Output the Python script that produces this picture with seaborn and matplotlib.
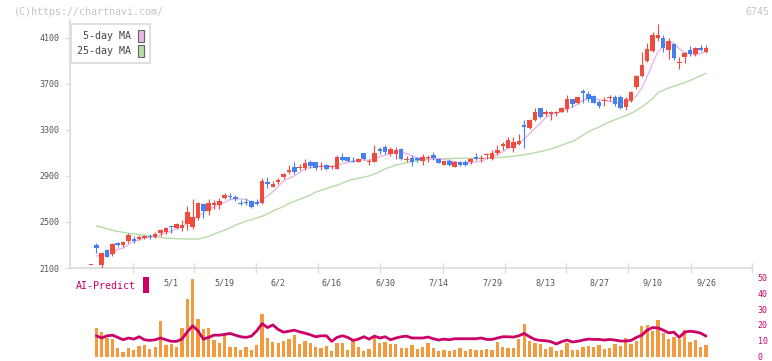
"""
Recria o grafico de candles (6745) com MAs, volume e linha AI-Predict.
Saida: out.png (772x361)
"""

import numpy as np
import pandas as pd
import seaborn as sns
import matplotlib.pyplot as plt
from matplotlib.patches import Patch, Rectangle

# precos diarios (indice 0 = 4/9 ... indice 115 = 9/26)
OPEN = [2130, 2300, 2126, 2257, 2219, 2320, 2297, 2332, 2355, 2350,
        2358, 2378, 2373, 2402, 2413, 2465, 2445, 2448, 2483, 2459,
        2532, 2657, 2599, 2648, 2648, 2706, 2730, 2720, 2668, 2677,
        2685, 2677, 2663, 2848, 2807, 2848, 2894, 2935, 2976, 2970,
        2972, 3019, 3019, 2982, 2996, 2978, 2961, 3065, 3065, 3033,
        3025, 3097, 3025, 3019, 3135, 3152, 3091, 3095, 3132, 3040,
        3054, 3054, 3033, 3058, 3083, 3045, 2996, 3033, 2982, 3022,
        3022, 3025, 3063, 3050, 3083, 3045, 3103, 3161, 3146, 3143,
        3178, 3346, 3321, 3387, 3491, 3437, 3435, 3450, 3454, 3483,
        3570, 3538, 3642, 3613, 3596, 3541, 3550, 3578, 3587, 3587,
        3503, 3552, 3670, 3770, 3900, 3989, 4097, 4103, 3996, 4046,
        3885, 3930, 3996, 3958, 4011, 3977]
HIGH = [2130, 2315, 2242, 2267, 2318, 2329, 2335, 2402, 2378, 2385,
        2390, 2398, 2415, 2437, 2460, 2465, 2495, 2520, 2640, 2700,
        2678, 2665, 2700, 2690, 2705, 2755, 2750, 2735, 2695, 2705,
        2690, 2700, 2880, 2889, 2860, 2880, 2930, 2998, 3020, 3000,
        3045, 3040, 3025, 3019, 3002, 2995, 3080, 3100, 3065, 3065,
        3052, 3097, 3050, 3165, 3148, 3170, 3150, 3150, 3140, 3070,
        3080, 3065, 3095, 3080, 3110, 3055, 3033, 3045, 3033, 3030,
        3035, 3054, 3100, 3080, 3103, 3125, 3170, 3195, 3235, 3235,
        3265, 3385, 3395, 3490, 3491, 3470, 3462, 3467, 3500, 3600,
        3570, 3590, 3655, 3635, 3605, 3560, 3590, 3605, 3605, 3605,
        3590, 3640, 3780, 3975, 4054, 4155, 4222, 4125, 4100, 4055,
        3937, 3975, 4030, 4020, 4035, 4040]
LOW = [2130, 2233, 2103, 2198, 2200, 2283, 2283, 2320, 2315, 2344,
       2350, 2355, 2365, 2380, 2395, 2400, 2435, 2425, 2430, 2436,
       2520, 2532, 2560, 2610, 2615, 2700, 2700, 2680, 2645, 2645,
       2620, 2650, 2655, 2793, 2800, 2830, 2875, 2915, 2915, 2950,
       2950, 2970, 2950, 2950, 2955, 2960, 2961, 3030, 3025, 3020,
       3020, 3040, 2995, 3019, 3090, 3090, 3075, 3050, 3040, 3020,
       2990, 3025, 2995, 3025, 3040, 3010, 2993, 2990, 2975, 2990,
       2990, 3005, 3040, 3025, 3050, 3040, 3080, 3130, 3140, 3110,
       3170, 3139, 3310, 3378, 3400, 3420, 3390, 3425, 3454, 3460,
       3500, 3530, 3533, 3545, 3535, 3495, 3505, 3555, 3505, 3480,
       3470, 3545, 3655, 3760, 3890, 3980, 4070, 3980, 3917, 3910,
       3830, 3880, 3945, 3940, 3985, 3965]
CLOSE = [2130, 2277, 2228, 2198, 2309, 2297, 2326, 2390, 2332, 2373,
         2381, 2370, 2398, 2430, 2445, 2454, 2483, 2477, 2590, 2546,
         2668, 2599, 2668, 2668, 2685, 2735, 2716, 2700, 2657, 2663,
         2633, 2657, 2857, 2830, 2830, 2865, 2915, 2955, 2938, 2980,
         3010, 2990, 2967, 2990, 2961, 2985, 3065, 3039, 3033, 3025,
         3048, 3048, 3030, 3097, 3117, 3112, 3132, 3130, 3045, 3050,
         3025, 3039, 3063, 3063, 3054, 3016, 3030, 2996, 3025, 2994,
         2996, 3050, 3050, 3058, 3091, 3097, 3126, 3178, 3213, 3193,
         3204, 3330, 3387, 3454, 3416, 3454, 3454, 3457, 3491, 3570,
         3526, 3584, 3620, 3567, 3538, 3512, 3553, 3583, 3523, 3494,
         3570, 3628, 3768, 3865, 4004, 4126, 4126, 4012, 4074, 3925,
         3892, 3965, 3958, 4011, 3993, 4016]

# media de 25 dias (indice 0 sem valor)
MA25 = [np.nan, 2465, 2455, 2440, 2428, 2418, 2410, 2402, 2397, 2392,
        2385, 2378, 2370, 2365, 2361, 2358, 2355, 2353, 2352, 2352,
        2352, 2362, 2375, 2395, 2412, 2430, 2450, 2472, 2490, 2508,
        2520, 2535, 2550, 2570, 2595, 2615, 2635, 2660, 2680, 2697,
        2715, 2735, 2760, 2775, 2790, 2805, 2820, 2838, 2858, 2870,
        2880, 2890, 2900, 2918, 2938, 2962, 2978, 2995, 3005, 3015,
        3025, 3035, 3040, 3044, 3047, 3049, 3050, 3052, 3053, 3054,
        3054, 3054, 3054, 3054, 3055, 3057, 3060, 3063, 3067, 3072,
        3078, 3085, 3092, 3102, 3112, 3122, 3135, 3150, 3168, 3185,
        3200, 3225, 3255, 3285, 3306, 3325, 3350, 3370, 3390, 3407,
        3425, 3445, 3470, 3500, 3535, 3570, 3625, 3645, 3665, 3680,
        3695, 3712, 3730, 3750, 3772, 3793]

# volume (escala relativa 0-50) e AI-Predict, indices 1..115
VOLUME = [18.1, 15.4, 11.7, 10.8, 5.4, 2.9, 5.4, 4.2, 6.7, 7.3,
          4.8, 6.0, 22.3, 7.5, 7.9, 6.0, 18.1, 36.7, 49.2, 23.7,
          17.3, 18.1, 10.4, 8.5, 14.0, 6.3, 6.3, 3.8, 6.3, 4.4,
          7.5, 26.7, 11.9, 9.4, 8.75, 9.8, 11.0, 13.75, 8.1, 9.8,
          8.75, 6.3, 5.4, 6.9, 3.75, 8.75, 8.5, 4.4, 10.2, 6.3,
          3.75, 4.8, 12.1, 8.75, 9.4, 7.9, 7.7, 5.4, 5.4, 7.3,
          4.8, 6.0, 8.5, 5.4, 3.5, 4.2, 3.5, 4.2, 5.4, 3.5,
          4.8, 4.2, 4.2, 4.8, 4.2, 9.2, 6.0, 5.4, 5.4, 11.0,
          20.4, 9.8, 8.5, 7.9, 4.8, 6.0, 3.5, 4.2, 8.5, 4.2,
          4.2, 6.0, 6.7, 6.0, 7.3, 4.8, 5.4, 7.9, 6.7, 11.7,
          7.9, 9.8, 19.2, 19.8, 16.0, 22.9, 14.8, 11.0, 12.3, 11.0,
          16.7, 9.2, 10.4, 6.0, 7.3]
AI_PREDICT = [13.1, 11.7, 13.1, 13.5, 12.1, 10.6, 11.7, 11.0, 12.5, 10.6,
              10.2, 10.6, 11.7, 10.6, 9.6, 9.6, 11.0, 15.6, 19.4, 16.3,
              11.0, 12.1, 13.5, 13.5, 14.0, 14.6, 13.5, 12.5, 12.1, 12.9,
              16.3, 20.8, 18.3, 20.0, 17.1, 15.4, 16.0, 16.7, 15.6, 14.8,
              13.75, 12.5, 13.1, 13.1, 9.6, 12.1, 13.1, 12.1, 10.2, 11.0,
              12.5, 11.0, 12.9, 11.7, 12.5, 10.6, 11.7, 12.5, 12.9, 11.7,
              11.7, 11.7, 12.3, 11.25, 10.4, 11.0, 10.6, 11.25, 11.25, 11.25,
              11.25, 11.25, 11.7, 10.8, 10.8, 11.7, 12.5, 12.5, 12.3, 13.1,
              14.6, 12.5, 10.8, 10.2, 10.0, 9.4, 7.9, 9.4, 10.4, 9.2,
              9.6, 10.4, 11.0, 10.8, 10.8, 10.4, 10.8, 10.4, 9.8, 9.8,
              10.2, 12.1, 13.5, 16.7, 18.3, 18.1, 16.7, 15.0, 15.4, 12.1,
              15.4, 16.0, 15.6, 14.8, 12.9]

DATE_LABELS = ["5/1", "5/19", "6/2", "6/16", "6/30", "7/14",
               "7/29", "8/13", "8/27", "9/10", "9/26"]
DATE_POS = [15, 25, 35, 45, 55, 65, 75, 85, 95, 105, 115]
GRID_POS = [7.8, 19.25, 30.85, 42.45, 54.0, 65.75, 77.35, 88.85, 100.45, 112.1, 123.6]
PRICE_TICKS = [2100, 2500, 2900, 3300, 3700, 4100]

RED = "#f04b3c"
BLUE = "#4680ee"
PINK = "#e8b8e8"
GREEN = "#b6dca8"
ORANGE = "#f39a3e"
MAGENTA = "#cc0066"
AXIS = "#dddddd"

W, H = 772, 361


def main() -> None:
    sns.set_theme(style="white")
    plt.rcParams["font.family"] = ["DejaVu Sans Mono", "DejaVu Sans"]

    df = pd.DataFrame({"open": OPEN, "high": HIGH, "low": LOW,
                       "close": CLOSE, "ma25": MA25})
    df["idx"] = np.arange(len(df))
    df["ma5"] = df["close"].rolling(5, min_periods=1).mean()
    df.loc[0, "ma5"] = np.nan

    vol = pd.DataFrame({"idx": np.arange(1, len(df)), "volume": VOLUME,
                        "ai": AI_PREDICT})

    fig = plt.figure(figsize=(W / 100, H / 100), dpi=100)
    ax = fig.add_axes([70 / W, 1 - 268 / H, 682 / W, 248 / H])
    ax2 = fig.add_axes([70 / W, 1 - 356.5 / H, 682 / W, 79 / H])

    xlim = (-3.93, 123.6)

    # medias moveis
    sns.lineplot(data=df, x="idx", y="ma25", ax=ax, color=GREEN, lw=1.0, zorder=2)
    sns.lineplot(data=df, x="idx", y="ma5", ax=ax, color=PINK, lw=1.0, zorder=2)

    # candles
    up = df["close"] >= df["open"]
    colors = np.where(up, RED, BLUE)
    ax.vlines(df["idx"], df["low"], df["high"], colors=colors, lw=0.8, zorder=3)
    bottom = np.minimum(df["open"], df["close"])
    height = np.maximum((df["close"] - df["open"]).abs(), 8)
    ax.bar(df["idx"], height, bottom=bottom, width=0.85, color=colors,
           linewidth=0, zorder=4)

    ax.set_xlim(*xlim)
    ax.set_ylim(2100, 4256)
    ax.set_xlabel("")
    ax.set_ylabel("")
    for s in ["top", "right"]:
        ax.spines[s].set_visible(False)
    for s in ["left", "bottom"]:
        ax.spines[s].set_color(AXIS)
        ax.spines[s].set_linewidth(1.3)

    ax.set_yticks(PRICE_TICKS)
    ax.tick_params(axis="y", left=True, length=3.6, width=1, color=AXIS,
                   labelsize=6, labelcolor="#555555", pad=4)
    ax.set_xticks(GRID_POS)
    ax.set_xticklabels([])
    ax.set_xticks(DATE_POS, minor=True)
    ax.set_xticklabels(DATE_LABELS, minor=True)
    ax.tick_params(axis="x", which="major", bottom=True, direction="inout",
                   length=6.5, width=1, color=AXIS)
    ax.tick_params(axis="x", which="minor", bottom=True, length=0, pad=7.5,
                   labelsize=6, labelcolor="#555555")

    handles = [Patch(facecolor=PINK, edgecolor="#666666", lw=0.8, label="5-day MA"),
               Patch(facecolor=GREEN, edgecolor="#666666", lw=0.8, label="25-day MA")]
    leg = ax.legend(handles=handles, loc="upper left", bbox_to_anchor=(1 / 682, 1 - 4 / 248),
                    markerfirst=False, fontsize=7.2, handlelength=0.62, handleheight=1.45,
                    handletextpad=0.7, labelspacing=0.3, borderpad=0.6, borderaxespad=0,
                    frameon=True, fancybox=False, edgecolor=AXIS, framealpha=1,
                    labelcolor="#444444")
    leg.get_frame().set_linewidth(1.3)

    # volume + AI-Predict
    ax2.bar(vol["idx"], vol["volume"], width=0.62, color=ORANGE, linewidth=0, zorder=2)
    sns.lineplot(data=vol, x="idx", y="ai", ax=ax2, color=MAGENTA, lw=2.0, zorder=3)
    ax2.set_xlim(*xlim)
    ax2.set_ylim(0, 50)
    ax2.set_xlabel("")
    ax2.set_ylabel("")
    ax2.set_xticks([])
    ax2.yaxis.tick_right()
    ax2.set_yticks([0, 10, 20, 30, 40, 50])
    ax2.tick_params(axis="y", length=0, pad=4, labelsize=6, labelcolor=MAGENTA)
    for s in ax2.spines.values():
        s.set_visible(False)
    ax2.patch.set_alpha(0)

    fig.text(76 / W, 1 - 286 / H, "AI-Predict", color=MAGENTA, fontsize=7.2,
             ha="left", va="center")
    fig.patches.append(Rectangle((142.5 / W, 1 - 293 / H), 6.5 / W, 16 / H,
                                 transform=fig.transFigure, facecolor=MAGENTA,
                                 edgecolor="none"))

    fig.text(14 / W, 1 - 12 / H, "(C)https://chartnavi.com/", color="#c4c4c4",
             fontsize=7.2, ha="left", va="center")
    fig.text(769 / W, 1 - 12 / H, "6745", color="#c4c4c4", fontsize=7.2,
             ha="right", va="center")

    fig.savefig("out.png", dpi=100)
    plt.close(fig)


if __name__ == "__main__":
    main()
